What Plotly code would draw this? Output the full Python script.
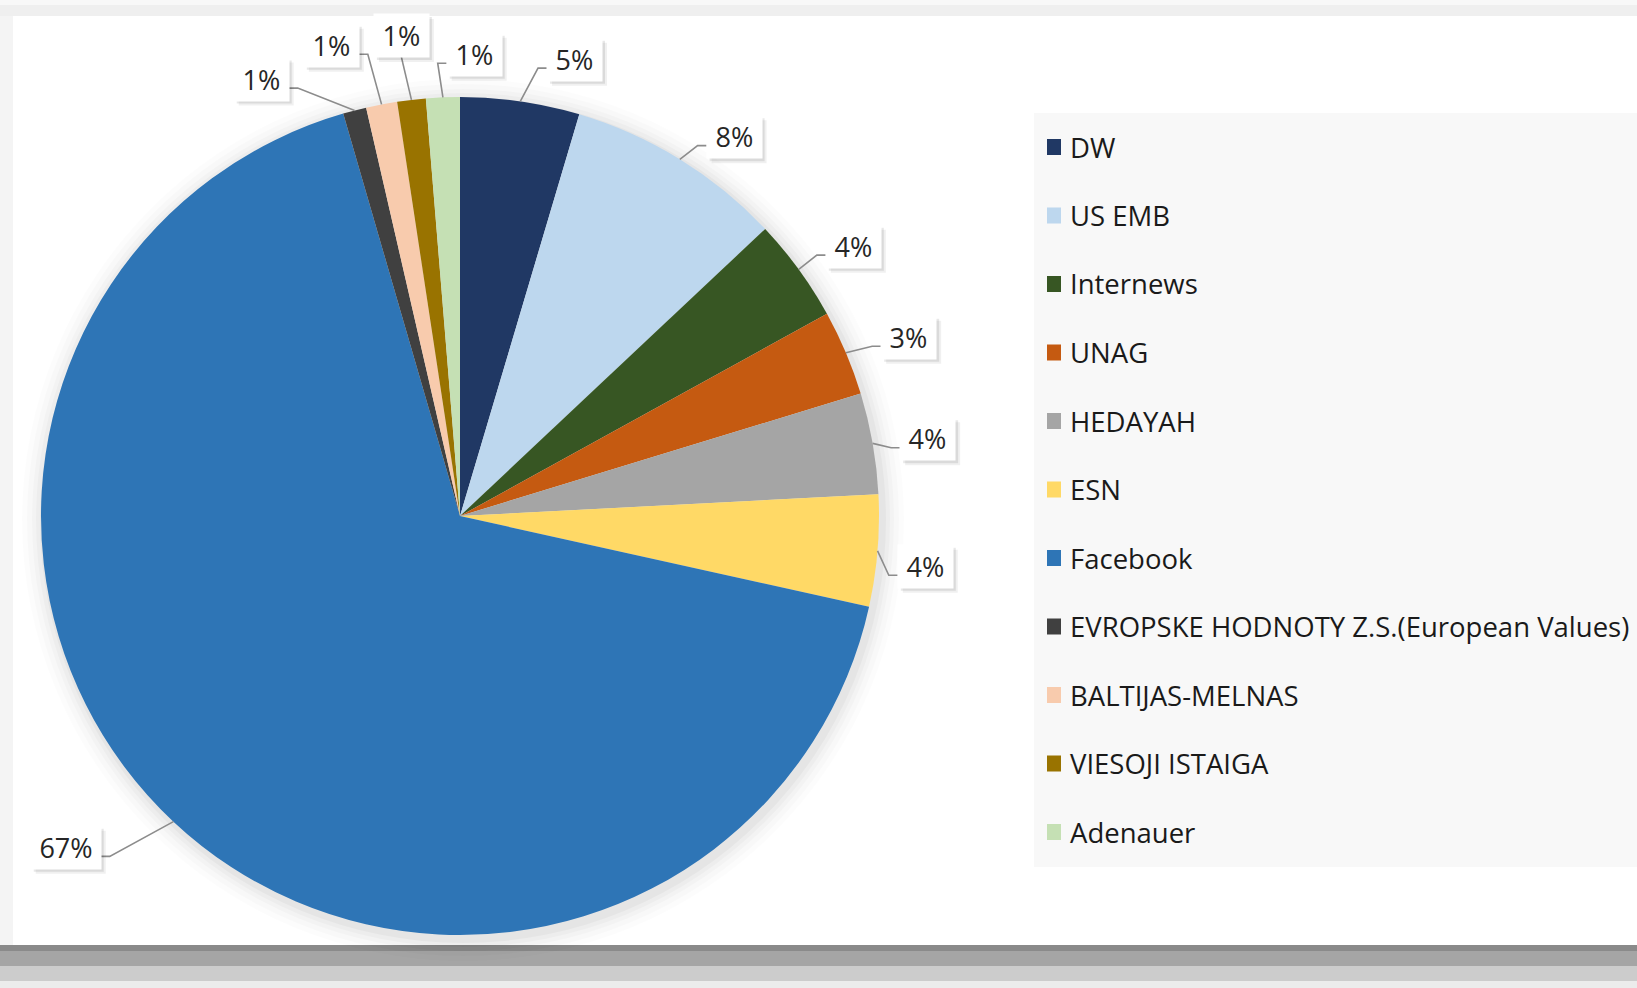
import math
import plotly.graph_objects as go

# ---------------- data ----------------
categories = ["DW", "US EMB", "Internews", "UNAG", "HEDAYAH", "ESN", "Facebook",
              "EVROPSKE HODNOTY Z.S.(European Values)", "BALTIJAS-MELNAS",
              "VIESOJI ISTAIGA", "Adenauer"]
values = [4.6, 8.4, 4.0, 3.3, 3.9, 4.3, 67.1, 0.9, 1.2, 1.1, 1.3]
colors = ["#203864", "#BDD7EE", "#375623", "#C55A11", "#A5A5A5", "#FFD966",
          "#2E75B6", "#404040", "#F8CBAD", "#997300", "#C5E0B4"]

# ---------------- layout helpers ----------------
W, H = 1637, 988
CX, CY, R = 460, 516, 419
FONT = "Open Sans, sans-serif"
FS = 27
LFS = 27.5

# label placement (angle nudge in degrees, distance from centre in px)
label_nudge = [5.8, 4.2, 1.6, 1.2, 0.6, 1.4, 6.8, -9.9, -4.5, -0.3, 4.1]
label_dist = [471, 468, 477, 483, 474, 468, 515, 480, 488, 484, 462]


def px(x):
    return x / W


def py(y):
    return 1 - y / H


fig = go.Figure()
fig.add_trace(go.Pie(
    labels=categories, values=values, sort=False, direction="clockwise",
    rotation=0, marker=dict(colors=colors, line=dict(width=0)),
    textinfo="none", hoverinfo="label+percent", showlegend=False,
    domain=dict(x=[px(CX - R), px(CX + R)], y=[py(CY + R), py(CY - R)]),
))

shapes = []
annotations = []


def rect(x0, y0, x1, y1, color, layer="below"):
    shapes.append(dict(type="rect", xref="paper", yref="paper", x0=px(x0), x1=px(x1),
                       y0=py(y1), y1=py(y0), fillcolor=color, line=dict(width=0), layer=layer))


# frame / background
rect(0, 0, W, 5, "#f8f8f8")
rect(0, 5, W, 16, "#efefef")
rect(0, 16, 13, 945, "#f4f4f4")
for (y0, y1, c) in [(945, 951, "#8a8a8a"), (951, 966, "#a5a5a5"),
                    (966, 981, "#cccccc"), (981, 988, "#ececec")]:
    rect(0, y0, W, y1, c)

# soft pie shadow
for k, a in [(22, 0.012), (17, 0.015), (12, 0.02), (8, 0.025), (4, 0.03)]:
    shapes.append(dict(type="circle", xref="paper", yref="paper",
                       x0=px(CX - R - k + 3), x1=px(CX + R + k + 3),
                       y0=py(CY + R + k + 4), y1=py(CY - R - k + 4),
                       fillcolor=f"rgba(0,0,0,{a})", line=dict(width=0), layer="below"))

# legend box
rect(1034, 113, W, 867, "#f8f8f8")

total = sum(values)
cum = 0.0
for i, (cat, v) in enumerate(zip(categories, values)):
    mid = (cum + v / 2) / total * 2 * math.pi
    cum += v
    # leader line start on rim
    sx = CX + R * math.sin(mid)
    sy = CY - R * math.cos(mid)
    la = mid + math.radians(label_nudge[i])
    lx = CX + label_dist[i] * math.sin(la)
    ly = CY - label_dist[i] * math.cos(la)
    txt = f"{round(v / total * 100)}%"
    bw = 55 if len(txt) == 2 else 70
    bh = 43
    if lx - sx > bw / 2:
        tx, ty = lx - bw / 2, ly + 9
        ex, ey = tx - 9, ty
    elif sx - lx > bw / 2:
        tx, ty = lx + bw / 2, ly + 9
        ex, ey = tx + 9, ty
    else:
        tx, ty = lx, ly + bh / 2
        ex, ey = tx, ty
    shapes.append(dict(type="path", xref="paper", yref="paper",
                       path=f"M {px(sx)},{py(sy)} L {px(ex)},{py(ey)} L {px(tx)},{py(ty)}",
                       line=dict(color="#8c8c8c", width=1.6)))
    # soft drop shadow of the label box
    for off, a in [(5, 0.06), (3, 0.09)]:
        rect(lx - bw / 2 + off, ly - bh / 2 + off, lx + bw / 2 + off, ly + bh / 2 + off,
             f"rgba(0,0,0,{a})", layer="above")
    annotations.append(dict(x=px(lx), y=py(ly), xref="paper", yref="paper", text=txt,
                            showarrow=False, xanchor="center", yanchor="middle",
                            font=dict(family=FONT, size=FS, color="#262626"),
                            bgcolor="#ffffff", width=bw - 8, height=bh - 8, borderpad=4))

    # manual legend entry
    yc = 147 + 68.5 * i
    shapes.append(dict(type="rect", xref="paper", yref="paper", x0=px(1047), x1=px(1061),
                       y0=py(yc + 8), y1=py(yc - 8), fillcolor=colors[i], line=dict(width=0)))
    annotations.append(dict(x=px(1068), y=py(yc), xref="paper", yref="paper", text=cat,
                            showarrow=False, xanchor="left", yanchor="middle",
                            font=dict(family=FONT, size=LFS, color="#1a1a1a")))

fig.update_layout(
    width=W, height=H, margin=dict(l=0, r=0, t=0, b=0),
    paper_bgcolor="#ffffff", plot_bgcolor="#ffffff",
    shapes=shapes, annotations=annotations, showlegend=False,
)

fig.write_html("out.html", config={"displayModeBar": False},
               post_script="document.body.style.margin='0';"
                           "document.body.style.overflow='hidden';")
